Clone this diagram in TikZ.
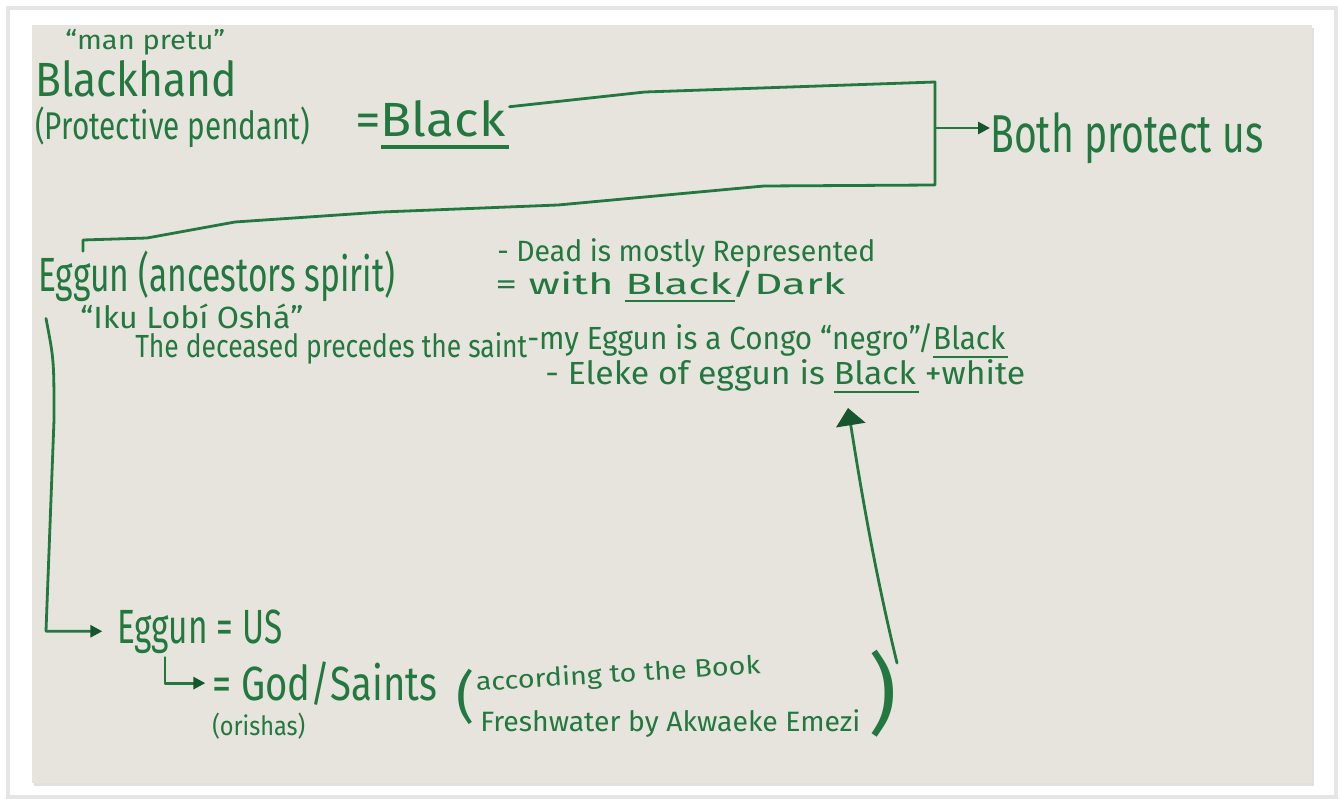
\documentclass[tikz,border=0pt]{standalone}
\usepackage{fontspec}
\setmainfont{Fira Sans}
\usetikzlibrary{arrows.meta}
\definecolor{ink}{RGB}{34,120,62}
\definecolor{inkdark}{RGB}{22,86,46}
\definecolor{card}{RGB}{231,228,222}
\newlength\pxu \setlength\pxu{0.75pt}
\newcommand\fitw[2]{\resizebox{#1\pxu}{\height}{#2}}
\newsavebox\ulbox
\newcommand\ul[1]{\sbox\ulbox{#1}\rlap{\rule[-0.24em]{\dimexpr\wd\ulbox+0.08em\relax}{0.065em}}\usebox\ulbox}
\begin{document}
\begin{tikzpicture}[x=0.75pt,y=-0.75pt,
  pen/.style={ink,line width=2.1pt,line cap=round,line join=round},
  hand/.style={inner sep=0pt,anchor=base west,text=ink},
  big/.style={font=\fontsize{36}{38}\selectfont},
  mid/.style={font=\fontsize{24}{26}\selectfont},
  small/.style={font=\fontsize{20}{22}\selectfont},
  tipS/.style={-{Triangle[length=9pt,width=9pt,color=inkdark]}},
  tipL/.style={-{Triangle[length=13pt,width=22pt,color=inkdark]}}]
\useasboundingbox (0,0) rectangle (1343,802);
% frame and card
\fill[white] (0,0) rectangle (1343,802);
\draw[black!10,line width=3pt] (8,8) rectangle (1336,797);
\fill[black!12] (34,28) rectangle (1314,786);
\fill[card] (32,25) rectangle (1312,783);
% texts
\node[hand,small] (manpretu) at (65,50) {\fitw{160}{“man pretu”}};
\node[hand,big] (blackhand) at (35,97) {\fitw{202}{Blackhand}};
\node[hand,font=\fontsize{29}{31}\selectfont] (pendant) at (35,140) {\fitw{275}{(Protective pendant)}};
\node[hand,big] (black) at (355,137) {\fitw{150}{=\ul{Black}}};
\node[hand,font=\fontsize{40}{42}\selectfont] (both) at (990,153) {\fitw{273}{Both protect us}};
\node[hand,big] (eggun) at (38,292) {\fitw{357}{Eggun (ancestors spirit)}};
\node[hand,font=\fontsize{23}{25}\selectfont] (iku) at (80,329) {\fitw{223}{“Iku Lobí Oshá”}};
\node[hand,font=\fontsize{24}{26}\selectfont] (deceased) at (135,358) {\fitw{392}{The deceased precedes the saint}};
\node[hand,font=\fontsize{22}{24}\selectfont] (dead) at (497,262) {\fitw{378}{- Dead is mostly Represented}};
\node[hand,font=\fontsize{22}{24}\selectfont] (withblack) at (495,295) {\fitw{350}{= with \ul{Black}/Dark}};
\node[hand,mid] (congo) at (527,350) {\fitw{478}{-my Eggun is a Congo “negro”/\ul{Black}}};
\node[hand,mid] (eleke) at (545,385) {\fitw{480}{- Eleke of eggun is \ul{Black} +white}};
\node[hand,big] (eggunus) at (117,643) {\fitw{165}{Eggun = US}};
\node[hand,big] (god) at (212,700) {\fitw{225}{= God/Saints}};
\node[hand,small] (orishas) at (212,735) {\fitw{93}{(orishas)}};
\node[hand,font=\fontsize{42}{44}\selectfont] (lparen) at (456,716) {(};
\node[hand,font=\fontsize{19}{21}\selectfont,rotate=3.5] (according) at (476,691) {\fitw{285}{according to the Book}};
\node[hand,font=\fontsize{21}{23}\selectfont] (fresh) at (480,731) {\fitw{380}{Freshwater by Akwaeke Emezi}};
\node[hand,font=\fontsize{66}{68}\selectfont] (rparen) at (868,724) {)};
% coordinates
\coordinate (brTop) at (935,82);
\coordinate (brBot) at (935,185);
\coordinate (brMid) at (935,128);
\coordinate (brCorner) at (83,240);
\coordinate (vCorner) at (46,631);
\coordinate (lStart) at ([shift={(48,4)}]eggunus.south west);
\coordinate (upStart) at (897,663);
\coordinate (upTip) at (848,408);
% bracket
\draw[pen] ([shift={(4,6)}]black.north east) -- (645,92) -- (brTop) -- (brBot)
  -- (764,186) -- (558,205) -- (382,212) -- (235,222) -- (147,238) -- (brCorner)
  -- (brCorner |- eggun.north);
\draw[pen,tipS] (brMid) -- (brMid -| both.west);
% Eggun -> Eggun = US
\draw[pen,tipS,shorten >=11pt] ([shift={(8,16)}]eggun.south west) .. controls (54,360) .. (54,420)
  -- (vCorner) -- (eggunus.west -| vCorner) -- (eggunus.west);
% Eggun = US -> God/Saints
\draw[pen,tipS,shorten >=5pt] (lStart) -- (god.west -| lStart) -- (god.west);
% up arrow
\draw[pen,tipL] (upStart) .. controls (872,560) and (858,470) .. (upTip);
\end{tikzpicture}
\end{document}
